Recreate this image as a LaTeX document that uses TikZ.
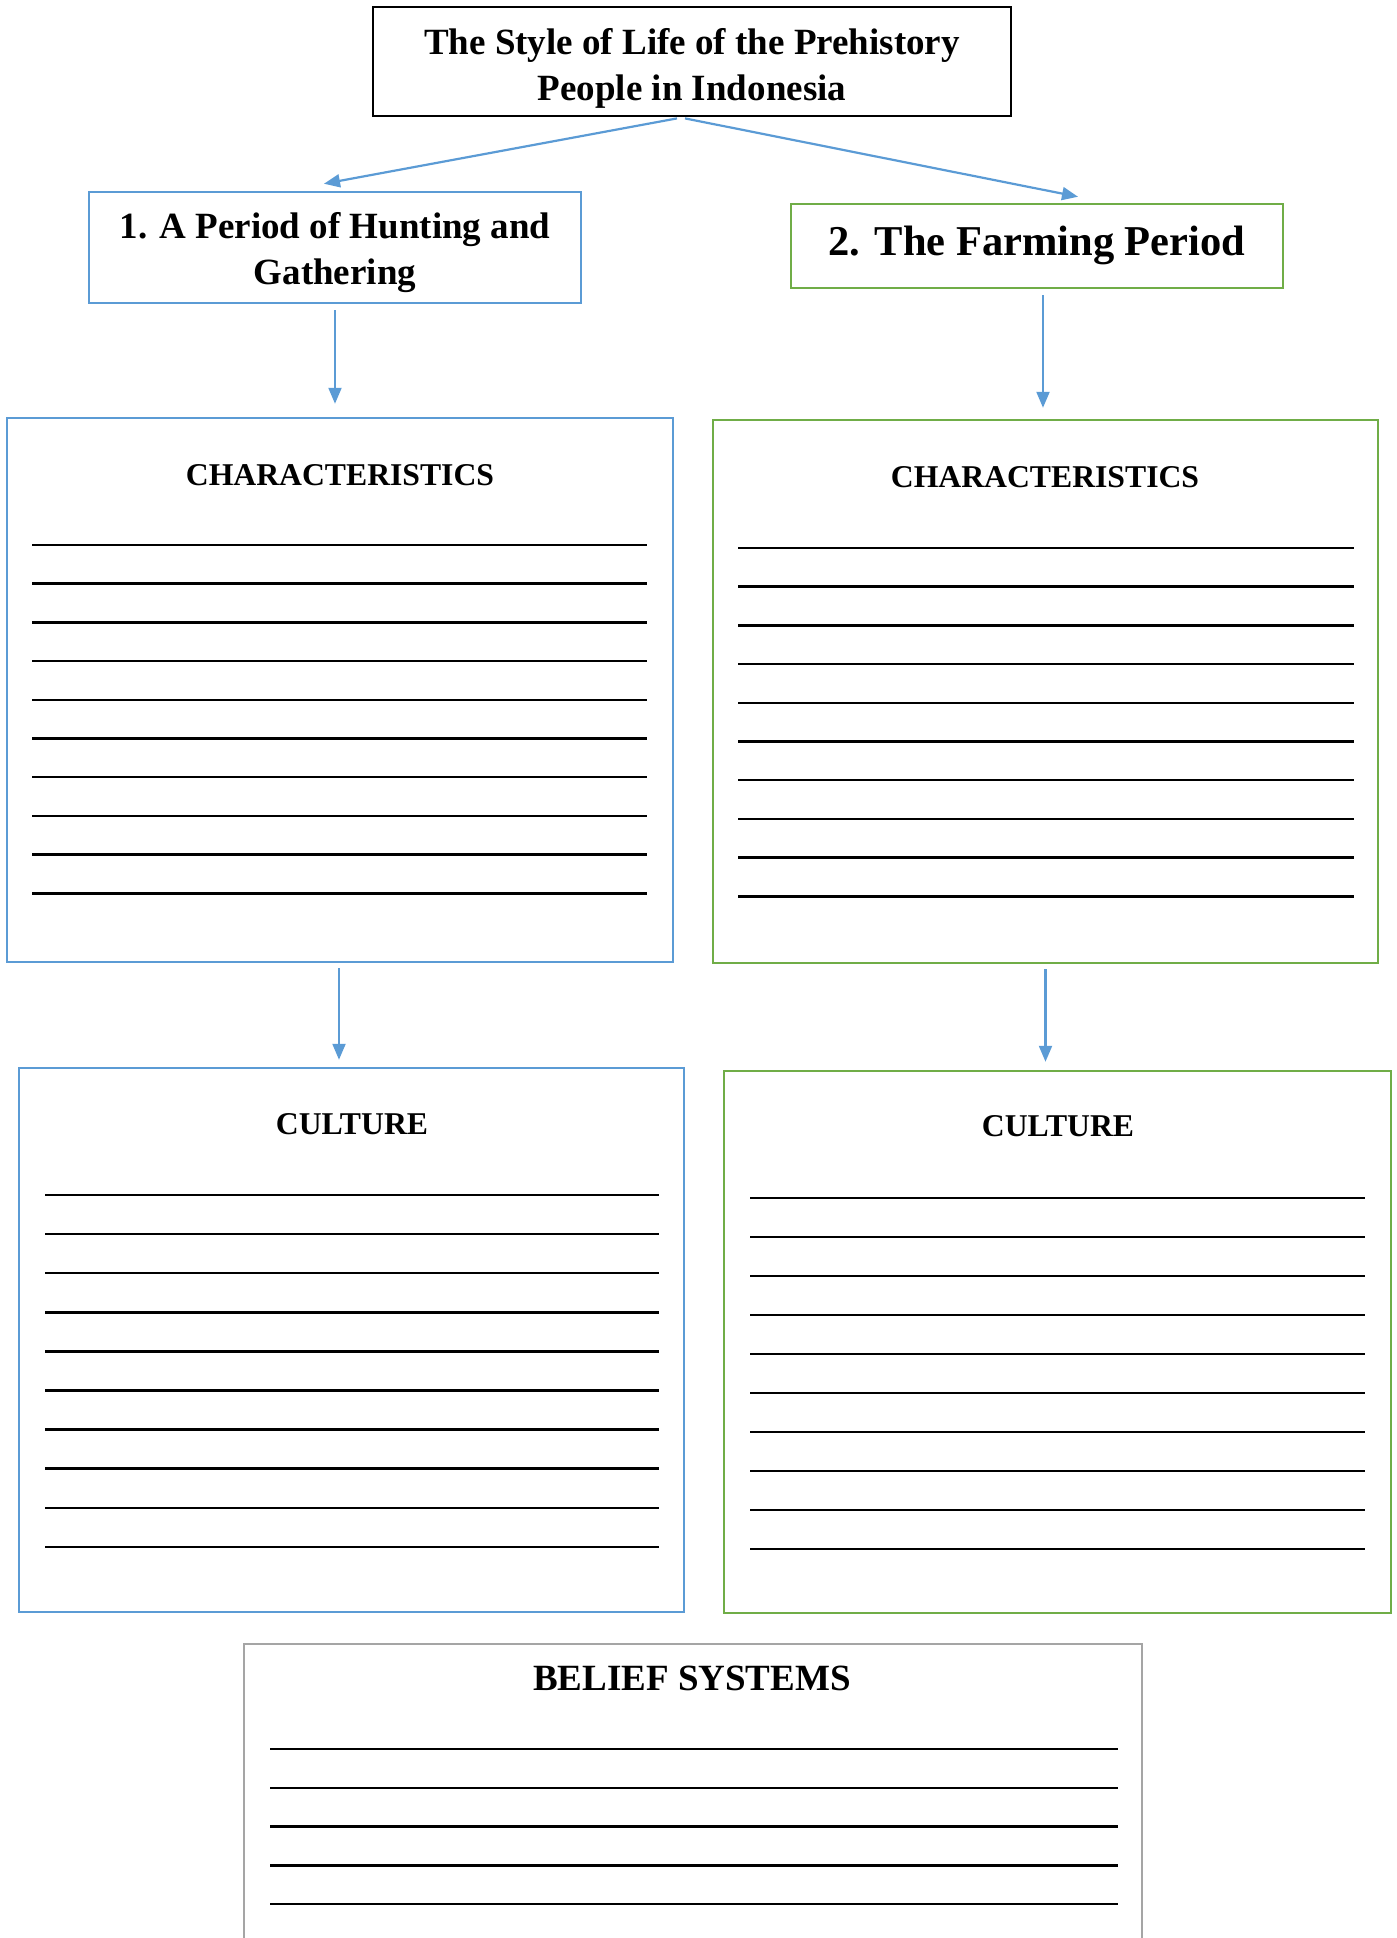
\documentclass[tikz,border=0pt]{standalone}
\usepackage{fontspec}
\setmainfont{Liberation Serif}
\usetikzlibrary{arrows.meta,calc}
\definecolor{wblue}{HTML}{5B9BD5}
\definecolor{wgreen}{HTML}{70AD47}
\definecolor{wgray}{HTML}{A5A5A5}
\tikzset{
  boxn/.style={draw,rectangle,inner sep=0pt,line width=2.5pt,fill=white},
  arr/.style={draw=wblue,line width=2.2pt,-{Triangle[length=16pt,width=13pt]}},
  wline/.style={line width=2.5pt,black},
  head/.style={font=\fontsize{31.7}{38}\selectfont\bfseries,inner sep=0pt},
}
\begin{document}
\begin{tikzpicture}[x=1pt,y=-1pt]
\useasboundingbox (0,0) rectangle (1397,1938);
\clip (0,0) rectangle (1397,1938);
% boxes
\node[boxn,draw=black,line width=2.8pt,minimum width=638pt,minimum height=109pt] (title) at (692,61.5) {};
\node[boxn,draw=wblue,minimum width=492pt,minimum height=111pt] (box1) at (335,247.5) {};
\node[boxn,draw=wgreen,minimum width=492pt,minimum height=84pt] (box2) at (1037,246) {};
\node[boxn,draw=wblue,minimum width=666pt,minimum height=544pt] (charL) at (340,690) {};
\node[boxn,draw=wgreen,minimum width=665pt,minimum height=543pt] (charR) at (1045.5,691.5) {};
\node[boxn,draw=wblue,minimum width=665pt,minimum height=544pt] (cultL) at (351.5,1340) {};
\node[boxn,draw=wgreen,minimum width=667pt,minimum height=542pt] (cultR) at (1057.5,1342) {};
\node[boxn,draw=wgray,minimum width=898pt,minimum height=400pt] (belief) at (693,1844) {};
% texts
\node[align=center,inner sep=0pt,font=\fontsize{37}{46}\selectfont\bfseries] (titletext) at (692,68) {The Style of Life of the Prehistory\\People in Indonesia};
\node[align=center,inner sep=0pt,font=\fontsize{37}{46}\selectfont\bfseries] (box1text) at (335,253) {1. A Period of Hunting and\\Gathering};
\node[align=center,inner sep=0pt,font=\fontsize{42.5}{50}\selectfont\bfseries] (box2text) at (1037,245) {2. The Farming Period};
\node[head] (charLtext) at (340,475) {CHARACTERISTICS};
\node[head] (charRtext) at (1045,477) {CHARACTERISTICS};
\node[head] (cultLtext) at (352,1124) {CULTURE};
\node[head] (cultRtext) at (1058,1126) {CULTURE};
\node[head,font=\fontsize{37}{44}\selectfont\bfseries] (belieftext) at (692,1678) {BELIEF SYSTEMS};
% writing lines
\foreach \i in {0,...,9}{
  \draw[wline] (32,545+38.7*\i) -- (647,545+38.7*\i);
  \draw[wline] (738,548+38.7*\i) -- (1354,548+38.7*\i);
  \draw[wline] (45,1195+39.1*\i) -- (659,1195+39.1*\i);
  \draw[wline] (750,1198+39.0*\i) -- (1365,1198+39.0*\i);
}
\foreach \i in {0,...,4}{
  \draw[wline] (270,1749+38.75*\i) -- (1118,1749+38.75*\i);
}
% connectors
\coordinate (tL) at ($(title.south)+(-15,1)$);
\coordinate (tR) at ($(title.south)+(-7,1)$);
\coordinate (b1in) at ($(box1.north)+(-11,-7)$);
\coordinate (b2in) at ($(box2.north)+(41,-6)$);
\coordinate (b1out) at ($(box1.south)+(0,6)$);
\coordinate (c1in) at ($(charL.north)+(-5,-13)$);
\coordinate (b2out) at ($(box2.south)+(6,6)$);
\coordinate (c2in) at ($(charR.north)+(-2.5,-11)$);
\coordinate (c1out) at ($(charL.south)+(-1,5)$);
\coordinate (u1in) at ($(cultL.north)+(-12.5,-7)$);
\coordinate (c2out) at ($(charR.south)+(0,5)$);
\coordinate (u2in) at ($(cultR.north)+(-12,-8)$);
\draw[arr] (tL) -- (b1in);
\draw[arr] (tR) -- (b2in);
\draw[arr] (b1out) -- (c1in);
\draw[arr] (b2out) -- (c2in);
\draw[arr] (c1out) -- (u1in);
\draw[arr] (c2out) -- (u2in);
\end{tikzpicture}
\end{document}
